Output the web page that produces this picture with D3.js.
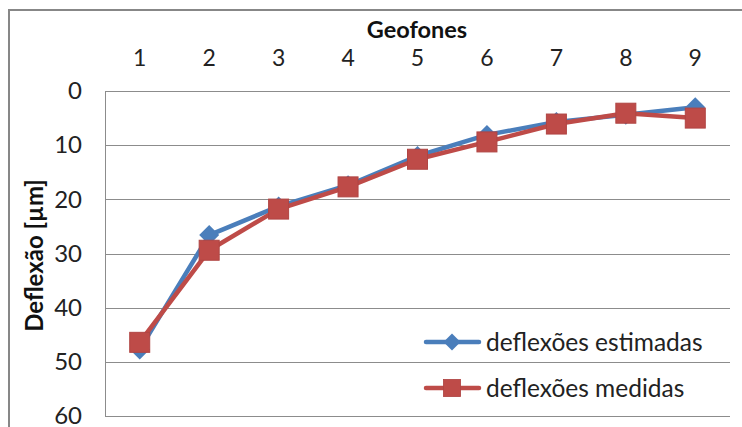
<!DOCTYPE html>
<html>
<head>
<meta charset="utf-8">
<script src="https://cdn.jsdelivr.net/npm/d3@7"></script>
<style>
  html, body { margin: 0; padding: 0; background: #fff; }
  svg { display: block; }
</style>
</head>
<body>
<svg id="chart" width="742" height="427"></svg>
<script>
const geofones = ["1", "2", "3", "4", "5", "6", "7", "8", "9"];
const estimadas = [47.7, 26.6, 21.3, 17.4, 12.0, 8.1, 5.7, 4.4, 3.0];
const medidas = [46.4, 29.4, 21.8, 17.7, 12.6, 9.4, 6.1, 4.1, 5.0];
const yTicks = [0, 10, 20, 30, 40, 50, 60];
const seriesNames = ["deflexões estimadas", "deflexões medidas"];
const xTitle = "Geofones";
const yTitle = "Deflexão [µm]";

const FONT = "Lato, 'Open Sans', sans-serif";
const svg = d3.select("#chart");
const m = { left: 105, top: 91, right: 730, bottom: 416 };

// outer chart border
svg.append("rect")
  .attr("x", 9).attr("y", 10).attr("width", 900).attr("height", 600)
  .attr("fill", "#fff").attr("stroke", "#878787").attr("stroke-width", 2);

const x = d3.scaleBand().domain(geofones).range([m.left, m.right]);
const y = d3.scaleLinear().domain([0, 60]).range([m.top, m.bottom]);

// gridlines
svg.append("g").selectAll("line").data(yTicks).join("line")
  .attr("x1", m.left).attr("x2", m.right)
  .attr("y1", d => Math.round(y(d)) + 0.5).attr("y2", d => Math.round(y(d)) + 0.5)
  .attr("stroke", "#8c8c8c").attr("stroke-width", 1);

// left axis line
svg.append("line")
  .attr("x1", m.left + 0.5).attr("x2", m.left + 0.5)
  .attr("y1", m.top).attr("y2", m.bottom + 1)
  .attr("stroke", "#8c8c8c").attr("stroke-width", 1);

// y tick labels
const yAxis = d3.axisLeft(y).tickValues(yTicks).tickSize(0).tickPadding(23);
const gy = svg.append("g").attr("transform", `translate(${m.left},0)`).call(yAxis);
gy.select(".domain").remove();
gy.selectAll("text").attr("font-family", FONT).attr("font-size", 24).attr("fill", "#222");

// x tick labels (top)
const xAxis = d3.axisTop(x).tickSize(0).tickPadding(0);
const gx = svg.append("g").attr("transform", `translate(0,66)`).call(xAxis);
gx.select(".domain").remove();
gx.selectAll("text").attr("font-family", FONT).attr("font-size", 23).attr("fill", "#222");

// titles
svg.append("text").attr("x", 417).attr("y", 38).attr("text-anchor", "middle")
  .attr("font-family", FONT).attr("font-weight", "bold").attr("font-size", 23.5)
  .attr("fill", "#111").text(xTitle);
svg.append("text").attr("transform", `translate(43,${(m.top + m.bottom) / 2 + 2}) rotate(-90)`)
  .attr("text-anchor", "middle")
  .attr("font-family", FONT).attr("font-weight", "bold").attr("font-size", 24)
  .attr("fill", "#111").text(yTitle);

const cx = d => x(d) + x.bandwidth() / 2;
const line = d3.line().x(d => cx(d.g)).y(d => y(d.v));

const series = [
  { name: seriesNames[0], values: estimadas, color: "#4A7EBB", marker: "diamond" },
  { name: seriesNames[1], values: medidas, color: "#BE4B48", marker: "square" }
];

function drawMarker(g, type, color) {
  if (type === "diamond") {
    g.append("path").attr("d", "M0,-10L10,0L0,10L-10,0Z").attr("fill", color);
  } else {
    g.append("rect").attr("x", -10).attr("y", -10).attr("width", 20).attr("height", 20)
      .attr("fill", color).attr("stroke", "#B04543").attr("stroke-width", 1);
  }
}

series.forEach(s => {
  const pts = s.values.map((v, i) => ({ g: geofones[i], v }));
  svg.append("path").datum(pts).attr("d", line)
    .attr("fill", "none").attr("stroke", s.color).attr("stroke-width", 4.5)
    .attr("stroke-linejoin", "round").attr("stroke-linecap", "round");
  svg.append("g").selectAll("g").data(pts).join("g")
    .attr("transform", d => `translate(${cx(d.g)},${y(d.v)})`)
    .each(function () { drawMarker(d3.select(this), s.marker, s.color); });
});

// legend
const legendY = [342, 388];
series.forEach((s, i) => {
  const g = svg.append("g").attr("transform", `translate(0,${legendY[i]})`);
  g.append("line").attr("x1", 426).attr("x2", 479).attr("y1", 0).attr("y2", 0)
    .attr("stroke", s.color).attr("stroke-width", 4.5).attr("stroke-linecap", "round");
  const mk = g.append("g").attr("transform", "translate(452,0) scale(0.85)");
  drawMarker(mk, s.marker, s.color);
  g.append("text").attr("x", 486).attr("y", 0).attr("dy", "0.35em")
    .attr("font-family", FONT).attr("font-size", 24.5).attr("fill", "#222").text(s.name);
});
</script>
</body>
</html>
